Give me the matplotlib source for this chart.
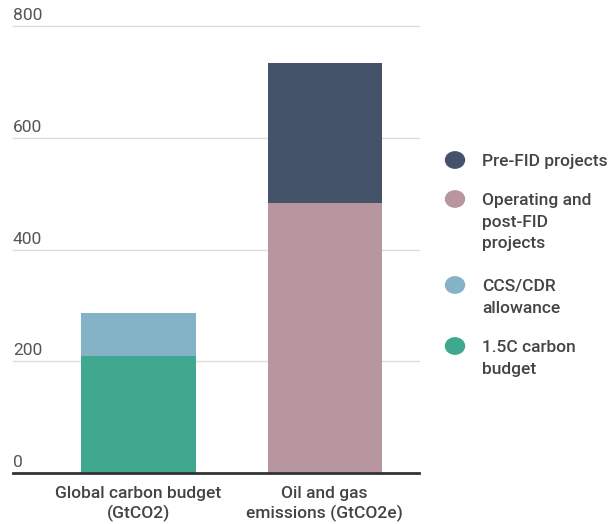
import numpy as np
import matplotlib.pyplot as plt

plt.rcParams['font.family'] = ['Roboto', 'DejaVu Sans']

categories = ["Global carbon budget\n(GtCO2)", "Oil and gas\nemissions (GtCO2e)"]
budget_15c = [210, 0]
ccs_cdr = [76, 0]
operating = [0, 484]
pre_fid = [0, 249]

series_labels = ["Pre-FID projects", "Operating and\npost-FID\nprojects",
                 "CCS/CDR\nallowance", "1.5C carbon\nbudget"]
yticks = [0, 200, 400, 600, 800]

c_green = "#3fa88f"
c_blue = "#84b2c6"
c_pink = "#b8969f"
c_dark = "#44536a"

fig = plt.figure(figsize=(6.09, 5.24), dpi=100)
ax = fig.add_axes([0.021, 0.0973, 0.667, 0.853])

x = np.arange(len(categories))
w = 0.613
ax.bar(x, budget_15c, w, color=c_green, zorder=3)
ax.bar(x, ccs_cdr, w, bottom=budget_15c, color=c_blue, zorder=3)
ax.bar(x, operating, w, color=c_pink, zorder=3)
ax.bar(x, pre_fid, w, bottom=operating, color=c_dark, zorder=3)

ax.set_xlim(-0.675, 1.507)
ax.set_ylim(0, 800)
for s in ax.spines.values():
    s.set_visible(False)
ax.set_yticks([])
for t in yticks:
    if t > 0:
        ax.axhline(t, color="#dcdcdc", lw=1, zorder=1, clip_on=False)
    ax.annotate(str(t), xy=(0, t), xycoords=("axes fraction", "data"),
                xytext=(0, 2), textcoords="offset points",
                ha="left", va="bottom", fontsize=12.5, color="#555555")
ax.axhline(0, color="#333333", lw=2, zorder=4, clip_on=False)

ax.set_xticks(x)
ax.set_xticklabels(categories, fontsize=12.5, color="#444444",
                   linespacing=1.3, fontweight="medium")
ax.tick_params(axis="x", length=0, pad=9)

# legend drawn by hand on the right
legend_colors = [c_dark, c_pink, c_blue, c_green]
legend_y = [160, 199, 285, 346]
for col, lab, yy in zip(legend_colors, series_labels, legend_y):
    fy = 1 - yy / 524
    fig.patches.append(plt.Circle((455 / 609, fy), 9.5 / 609, color=col,
                                  transform=fig.transFigure, figure=fig))
    fig.text(482 / 609, fy + 6 / 524, lab, ha="left", va="top",
             fontsize=12.5, color="#444444", linespacing=1.55,
             fontweight="medium")

fig.savefig("out.png", dpi=100)
